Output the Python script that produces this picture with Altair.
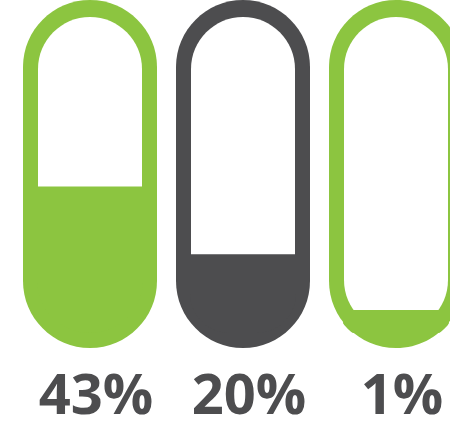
import altair as alt
import pandas as pd

# Share of each group, drawn as the fill level of a capsule
values = [43, 20, 1]
colors = ["#8cc540", "#4d4d4f", "#8cc540"]
labels = [f"{v}%" for v in values]

df = pd.DataFrame({
    "idx": list(range(len(values))),
    "value": values,
    "color": colors,
    "label": labels,
})

x_enc = alt.X("idx:O", axis=None,
              scale=alt.Scale(type="band", range=[13.5, 472.5],
                              paddingInner=0, paddingOuter=0))
col = alt.Color("color:N", scale=None, legend=None)

base = alt.Chart(df)

# Capsule body (acts as the outline)
outer = base.mark_bar(width=134, cornerRadius=67).encode(
    x=x_enc, y=alt.value(0), y2=alt.value(348), color=col
)

# Empty interior
inner = base.mark_bar(width=104, cornerRadius=52, color="white").encode(
    x=x_enc, y=alt.value(17), y2=alt.value(332)
)

# Fill level from the value (1px wider than the interior to hide seams)
level = base.mark_bar(width=106, cornerRadiusBottomLeft=53,
                      cornerRadiusBottomRight=53).encode(
    x=x_enc,
    y=alt.Y("value:Q", axis=None, stack=None,
            scale=alt.Scale(domain=[0, 100], range=[313, 19])),
    y2=alt.value(333),
    color=col,
)

# White halo trims anything poking outside the capsule edge
halo = base.mark_bar(width=148, cornerRadius=74, fillOpacity=0,
                     stroke="white", strokeWidth=12).encode(
    x=x_enc, y=alt.value(-7), y2=alt.value(355)
)

text = base.mark_text(font="Open Sans", fontWeight="bold", fontSize=56,
                      color="#4d4d4f", baseline="alphabetic", dx=6).encode(
    x=x_enc, y=alt.value(414), text="label:N"
)

chart = alt.layer(outer, inner, level, halo, text).properties(
    width=450, height=448, padding=0,
    autosize=alt.AutoSizeParams(type="none"),
).configure_view(stroke=None)

chart.save("out.html", embed_options={"renderer": "svg", "actions": False})
